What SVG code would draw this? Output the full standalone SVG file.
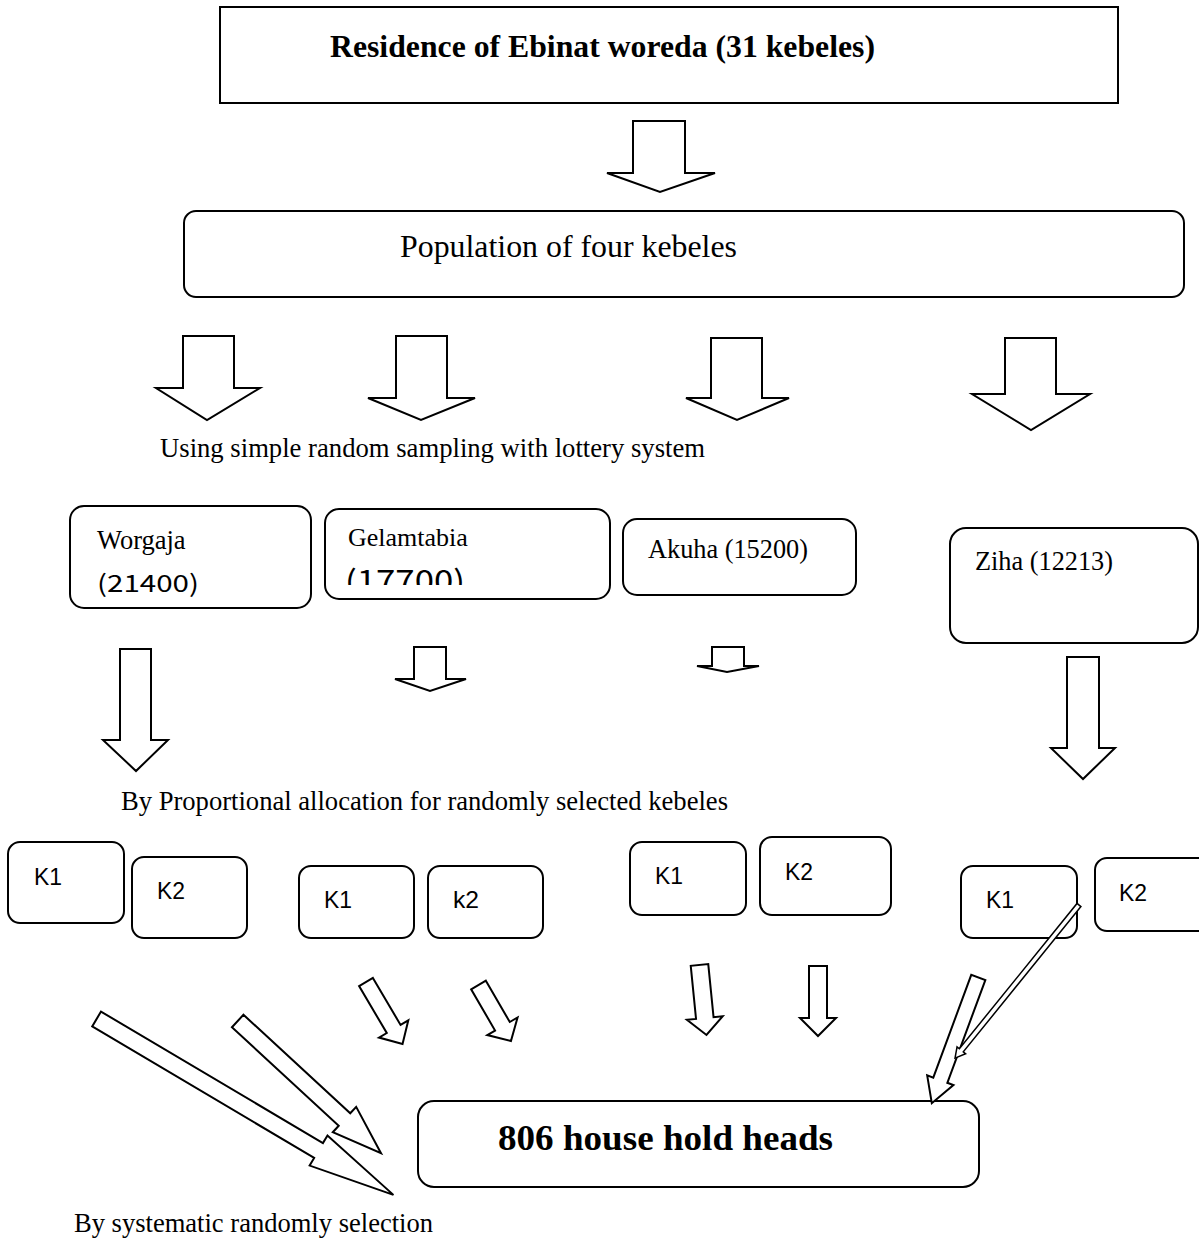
<svg xmlns="http://www.w3.org/2000/svg" width="1199" height="1238" viewBox="0 0 1199 1238">
<style>
.box{fill:#fff;stroke:#000;stroke-width:2}
.arr{fill:#fff;stroke:#000;stroke-width:2;stroke-linejoin:miter}
.thin{fill:#fff;stroke:#000;stroke-width:1.5}
.serif{font-family:"Liberation Serif","Times New Roman",serif;fill:#000}
.sans{font-family:"Liberation Sans",Arial,sans-serif;fill:#000;font-size:24px}
.cjk{font-family:"Noto Sans CJK KR","Noto Sans",sans-serif;fill:#000}
</style>
<defs>
<clipPath id="clip17700"><rect x="330" y="555" width="200" height="30"/></clipPath>
</defs>
<rect width="1199" height="1238" fill="#fff"/>

<g id="residence">
<rect class="box" x="220" y="7" width="898" height="96"/>
<text class="serif" x="330" y="57" font-size="31" font-weight="bold" textLength="545" lengthAdjust="spacingAndGlyphs">Residence of Ebinat woreda (31 kebeles)</text>
</g>

<g id="population">
<rect class="box" x="184" y="211" width="1000" height="86" rx="12"/>
<text class="serif" x="400" y="257" font-size="32" textLength="337" lengthAdjust="spacingAndGlyphs">Population of four kebeles</text>
</g>

<g id="label-lottery">
<text class="serif" x="160" y="457" font-size="26.5" textLength="545" lengthAdjust="spacingAndGlyphs">Using simple random sampling with lottery system</text>
</g>

<g id="worgaja">
<rect class="box" x="70" y="506" width="241" height="102" rx="14"/>
<text class="serif" x="97" y="549" font-size="26.5">Worgaja</text>
<text class="cjk" x="97" y="592" font-size="24" textLength="102" lengthAdjust="spacingAndGlyphs">(21400)</text>
</g>

<g id="gelamtabia">
<rect class="box" x="325" y="509" width="285" height="90" rx="14"/>
<text class="serif" x="348" y="546" font-size="26">Gelamtabia</text>
<text class="cjk" x="345" y="592" font-size="30" textLength="120" lengthAdjust="spacingAndGlyphs" clip-path="url(#clip17700)">(17700)</text>
</g>

<g id="akuha">
<rect class="box" x="623" y="519" width="233" height="76" rx="14"/>
<text class="serif" x="648" y="558" font-size="26.3">Akuha (15200)</text>
</g>

<g id="ziha">
<rect class="box" x="950" y="528" width="248" height="115" rx="16"/>
<text class="serif" x="975" y="570" font-size="26.3">Ziha (12213)</text>
</g>

<g id="label-proportional">
<text class="serif" x="121" y="810" font-size="26.5" textLength="607" lengthAdjust="spacingAndGlyphs">By Proportional allocation for randomly selected kebeles</text>
</g>

<g id="worgaja-k1"><rect class="box" x="8" y="842" width="116" height="81" rx="12"/><text class="sans" x="34" y="885" textLength="28" lengthAdjust="spacingAndGlyphs">K1</text></g>
<g id="worgaja-k2"><rect class="box" x="132" y="857" width="115" height="81" rx="12"/><text class="sans" x="157" y="899" textLength="28" lengthAdjust="spacingAndGlyphs">K2</text></g>
<g id="gelamtabia-k1"><rect class="box" x="299" y="866" width="115" height="72" rx="12"/><text class="sans" x="324" y="908" textLength="28" lengthAdjust="spacingAndGlyphs">K1</text></g>
<g id="gelamtabia-k2"><rect class="box" x="428" y="866" width="115" height="72" rx="12"/><text class="sans" x="453" y="908" textLength="26" lengthAdjust="spacingAndGlyphs">k2</text></g>
<g id="akuha-k1"><rect class="box" x="630" y="842" width="116" height="73" rx="12"/><text class="sans" x="655" y="884" textLength="28" lengthAdjust="spacingAndGlyphs">K1</text></g>
<g id="akuha-k2"><rect class="box" x="760" y="837" width="131" height="78" rx="12"/><text class="sans" x="785" y="880" textLength="28" lengthAdjust="spacingAndGlyphs">K2</text></g>
<g id="ziha-k1"><rect class="box" x="961" y="866" width="116" height="72" rx="12"/><text class="sans" x="986" y="908" textLength="28" lengthAdjust="spacingAndGlyphs">K1</text></g>
<g id="ziha-k2"><rect class="box" x="1095" y="858" width="120" height="73" rx="12"/><text class="sans" x="1119" y="901" textLength="28" lengthAdjust="spacingAndGlyphs">K2</text></g>

<g id="households">
<rect class="box" x="418" y="1101" width="561" height="86" rx="16"/>
<text class="serif" x="498" y="1150" font-size="36" font-weight="bold" textLength="335" lengthAdjust="spacingAndGlyphs">806 house hold heads</text>
</g>

<g id="label-systematic">
<text class="serif" x="74" y="1232" font-size="26.5" textLength="359" lengthAdjust="spacingAndGlyphs">By systematic randomly selection</text>
</g>

<g id="connectors">
<polygon class="arr" points="633,121 685,121 685,173 715,173 660,192 607,173 633,173"/>

<polygon class="arr" points="183,336 234,336 234,388 260,388 207,420 156,388 183,388"/>
<polygon class="arr" points="396,336 447,336 447,398 475,398 421,420 368,398 396,398"/>
<polygon class="arr" points="711,338 762,338 762,398 789,398 737,420 686,398 711,398"/>
<polygon class="arr" points="1005,338 1056,338 1056,394 1090,394 1031,430 972,394 1005,394"/>

<polygon class="arr" points="120,649 151,649 151,740 168,740 136,771 103,740 120,740"/>
<polygon class="arr" points="414,647 446,647 446,679 466,679 430,691 395,679 414,679"/>
<polygon class="arr" points="712,647 744,647 744,666 759,666 727,672 697,666 712,666"/>
<polygon class="arr" points="1067,657 1099,657 1099,748 1115,748 1083,779 1051,748 1067,748"/>

<polygon class="arr" transform="translate(366,982) rotate(59.5)" points="0,-8 54.5,-8 54.5,-17 72,0 54.5,17 54.5,8 0,8"/>
<polygon class="arr" transform="translate(478.5,985) rotate(59.9)" points="0,-8.5 47.7,-8.5 47.7,-17.5 64.7,0 47.7,17.5 47.7,8.5 0,8.5"/>
<polygon class="arr" transform="translate(699.5,965) rotate(84.3)" points="0,-8.8 53.3,-8.8 53.3,-18 70.3,0 53.3,18 53.3,8.8 0,8.8"/>
<polygon class="arr" points="809,966 827,966 827,1018 836,1018 818,1036 800,1018 809,1018"/>

<polygon class="arr" transform="translate(96.6,1019) rotate(30.65)" points="0,-8.6 258,-8.6 258,-17.5 345,0 258,17.5 258,8.6 0,8.6"/>
<polygon class="arr" transform="translate(237.7,1021) rotate(42.7)" points="0,-8.5 145.3,-8.5 145.3,-17.25 195,0 145.3,17.25 145.3,8.5 0,8.5"/>

<polygon class="arr" transform="translate(978.3,977.5) rotate(110.3)" points="0,-7.5 109.5,-7.5 109.5,-14 134,0 109.5,14 109.5,7.5 0,7.5"/>
<polygon class="thin" transform="translate(1079,905) rotate(129)" points="0,-2.5 187,-2.5 187,-5.5 197,0 187,5.5 187,2.5 0,2.5"/>
</g>
</svg>
